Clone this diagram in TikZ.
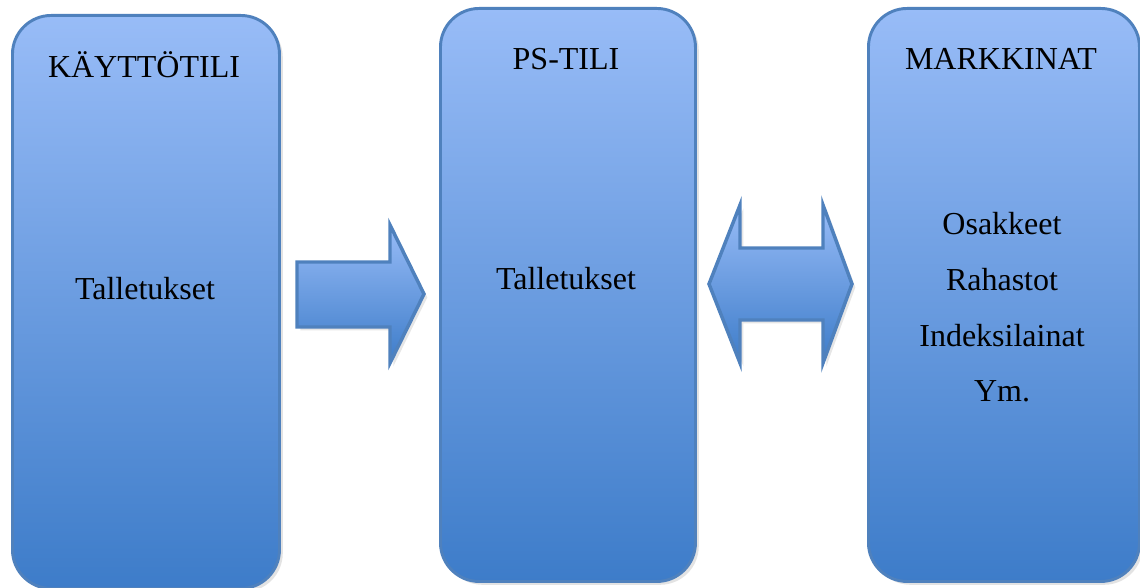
\documentclass[tikz,border=0pt]{standalone}
\usepackage{fontspec}
\setmainfont{Liberation Serif}
\newfontfamily\timesfont{Liberation Serif}
\usetikzlibrary{shadows}
\definecolor{topblue}{HTML}{98BCF7}
\definecolor{midblue}{HTML}{76A3E6}
\definecolor{botblue}{HTML}{3D7CC9}
\definecolor{edgeblue}{HTML}{4F81BD}
\begin{document}
\begin{tikzpicture}[x=0.75pt,y=-0.75pt,
  panel/.style={draw=edgeblue, line width=2.2pt, rounded corners=29pt,
    top color=topblue, middle color=midblue, bottom color=botblue, anchor=north west,
    minimum height=429.75pt, inner sep=0pt,
    drop shadow={opacity=0.22, shadow xshift=2.5pt, shadow yshift=-2.5pt}},
  bigarrow/.style={draw=edgeblue, line width=2.6pt, line join=miter,
    top color=topblue, bottom color=botblue,
    drop shadow={opacity=0.2, shadow xshift=2.5pt, shadow yshift=-2.5pt}},
  label/.style={font=\timesfont\fontsize{24}{28}\selectfont, anchor=base, inner sep=0pt}]
\useasboundingbox (0,0) rectangle (1140,588);
% panels
\node[panel, minimum width=200.25pt] (box1) at (11,14) {};
\node[panel, minimum width=191.25pt] (box2) at (439,7) {};
\node[panel, minimum width=203.25pt] (box3) at (867,7) {};
% arrows
\path[bigarrow] (297,262) -- (390,262) -- (390,225) -- (424,294) -- (390,363) -- (390,327) -- (297,327) -- cycle;
\path[bigarrow] (709,284) -- (740,205) -- (740,248) -- (823,248) -- (823,205) -- (852,284)
  -- (823,363) -- (823,320) -- (740,320) -- (740,363) -- cycle;
% texts
\node[label] (t1) at (144,78) {KÄYTTÖTILI};
\node[label] (t2) at (145,300) {Talletukset};
\node[label] (t3) at (566,70) {PS-TILI};
\node[label] (t4) at (566,290) {Talletukset};
\node[label] (t5) at (1001,70) {MARKKINAT};
\node[label] (t6) at (1002,235) {Osakkeet};
\node[label] (t7) at (1002,291) {Rahastot};
\node[label] (t8) at (1002,346) {Indeksilainat};
\node[label] (t9) at (1002,402) {Ym.};
\end{tikzpicture}
\end{document}
